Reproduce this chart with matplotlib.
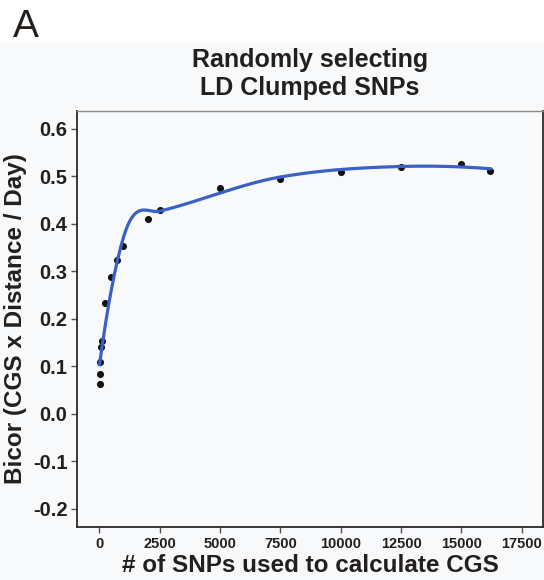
import numpy as np
import matplotlib
matplotlib.use("Agg")
import matplotlib.pyplot as plt
from matplotlib.patches import Rectangle


# number of randomly selected LD clumped SNPs and the resulting bicor
n_snps = [10, 25, 50, 75, 100, 250, 500, 750, 1000, 2000, 2500,
          5000, 7500, 10000, 12500, 15000, 16200]
bicor = [0.063, 0.084, 0.109, 0.140, 0.154, 0.233, 0.289, 0.324, 0.354,
         0.410, 0.429, 0.475, 0.495, 0.510, 0.519, 0.527, 0.512]

x_ticks = [0, 2500, 5000, 7500, 10000, 12500, 15000, 17500]
y_ticks = [-0.2, -0.1, 0.0, 0.1, 0.2, 0.3, 0.4, 0.5, 0.6]

TEXT = "#231f1c"
BG = "#f8f9fb"
LINE = "#3a60c8"


def local_fit(xn, y, x0, q, degree=2):
    d = np.abs(xn - x0)
    h = np.sort(d)[q - 1]
    w = np.clip(1 - (d / h) ** 3, 0, None) ** 3
    X = np.vander(xn - x0, degree + 1, increasing=True)
    sw = np.sqrt(w)
    beta = np.linalg.lstsq(X * sw[:, None], y * sw, rcond=None)[0]
    return beta[0], beta[1]


def kd_vertices(xs_sorted, fc):
    # 1-d version of the loess kd tree: cells split at the median point
    verts = []

    def split(lo, hi):
        if hi - lo + 1 <= fc:
            return
        m = (lo + hi) // 2
        verts.append(xs_sorted[m])
        split(lo, m)
        split(m + 1, hi)

    split(0, len(xs_sorted) - 1)
    return verts


def loess(x, y, xs, span=0.75, degree=2, cell=0.2):
    # loess evaluated on kd-tree vertices + cubic hermite interpolation
    x = np.asarray(x, float)
    y = np.asarray(y, float)
    lo, scale = x.min(), x.max() - x.min()
    xn = (x - lo) / scale
    xsn = (np.asarray(xs, float) - lo) / scale
    n = len(x)
    q = int(np.floor(n * span))
    fc = int(np.floor(n * span * cell))

    srt = np.sort(xn)
    margin = 0.005
    verts = sorted(set([srt[0] - margin, srt[-1] + margin]
                       + kd_vertices(srt, fc)))
    vals = [local_fit(xn, y, v, q, degree) for v in verts]

    out = []
    for x0 in xsn:
        i = np.searchsorted(verts, x0) - 1
        i = min(max(i, 0), len(verts) - 2)
        v0, v1 = verts[i], verts[i + 1]
        (y0, m0), (y1, m1) = vals[i], vals[i + 1]
        hh = v1 - v0
        t = (x0 - v0) / hh
        h00 = 2 * t ** 3 - 3 * t ** 2 + 1
        h10 = t ** 3 - 2 * t ** 2 + t
        h01 = -2 * t ** 3 + 3 * t ** 2
        h11 = t ** 3 - t ** 2
        out.append(h00 * y0 + h10 * hh * m0 + h01 * y1 + h11 * hh * m1)
    return np.array(out)


def main():
    plt.rcParams["font.family"] = ["Liberation Sans", "DejaVu Sans"]

    fig = plt.figure(figsize=(5.44, 5.8), dpi=100, facecolor=BG)
    fig.patches.append(Rectangle((0, 1 - 42 / 580), 1, 42 / 580,
                                 transform=fig.transFigure,
                                 color="white", zorder=0))

    ax = fig.add_axes([77.3 / 544, 1 - 527 / 580,
                       (542.7 - 77.3) / 544, (527 - 110.7) / 580])
    ax.set_facecolor(BG)

    xs = np.linspace(min(n_snps), max(n_snps), 400)
    ax.scatter(n_snps, bicor, s=26, color="#111111", zorder=3, linewidths=0)
    ax.plot(xs, loess(n_snps, bicor, xs), color=LINE, lw=2.3, zorder=4)

    ax.set_xlim(-910, 18370)
    ax.set_ylim(-0.238, 0.6385)
    ax.set_xticks(x_ticks)
    ax.set_yticks(y_ticks)
    ax.set_xticklabels([str(t) for t in x_ticks])
    ax.set_yticklabels([f"{t:.1f}" for t in y_ticks])

    for side in ["left", "bottom", "right"]:
        ax.spines[side].set_color("#2a2a2a")
        ax.spines[side].set_linewidth(1.3)
    ax.spines["top"].set_color("#8a8a8a")
    ax.spines["top"].set_linewidth(1.0)

    ax.tick_params(axis="both", length=4, width=1, color="#555555",
                   labelcolor=TEXT, pad=3)
    for lab in ax.get_xticklabels():
        lab.set_fontweight("bold")
        lab.set_fontsize(10.5)
    for lab in ax.get_yticklabels():
        lab.set_fontweight("bold")
        lab.set_fontsize(14.5)

    ax.set_xlabel("# of SNPs used to calculate CGS", fontsize=17.5,
                  fontweight="bold", color=TEXT, labelpad=2)
    ax.set_ylabel("Bicor (CGS x Distance / Day)", fontsize=17.5,
                  fontweight="bold", color=TEXT, labelpad=4)

    fig.text(310 / 544, 1 - 48 / 580, "Randomly selecting\nLD Clumped SNPs",
             ha="center", va="top", ma="center", fontsize=18,
             fontweight="bold", color=TEXT, linespacing=1.2)
    fig.text(13 / 544, 1 - 37 / 580, "A", fontsize=28, color=TEXT,
             va="baseline", ha="left")

    fig.savefig("out.png", dpi=100, facecolor=BG)


if __name__ == "__main__":
    main()
